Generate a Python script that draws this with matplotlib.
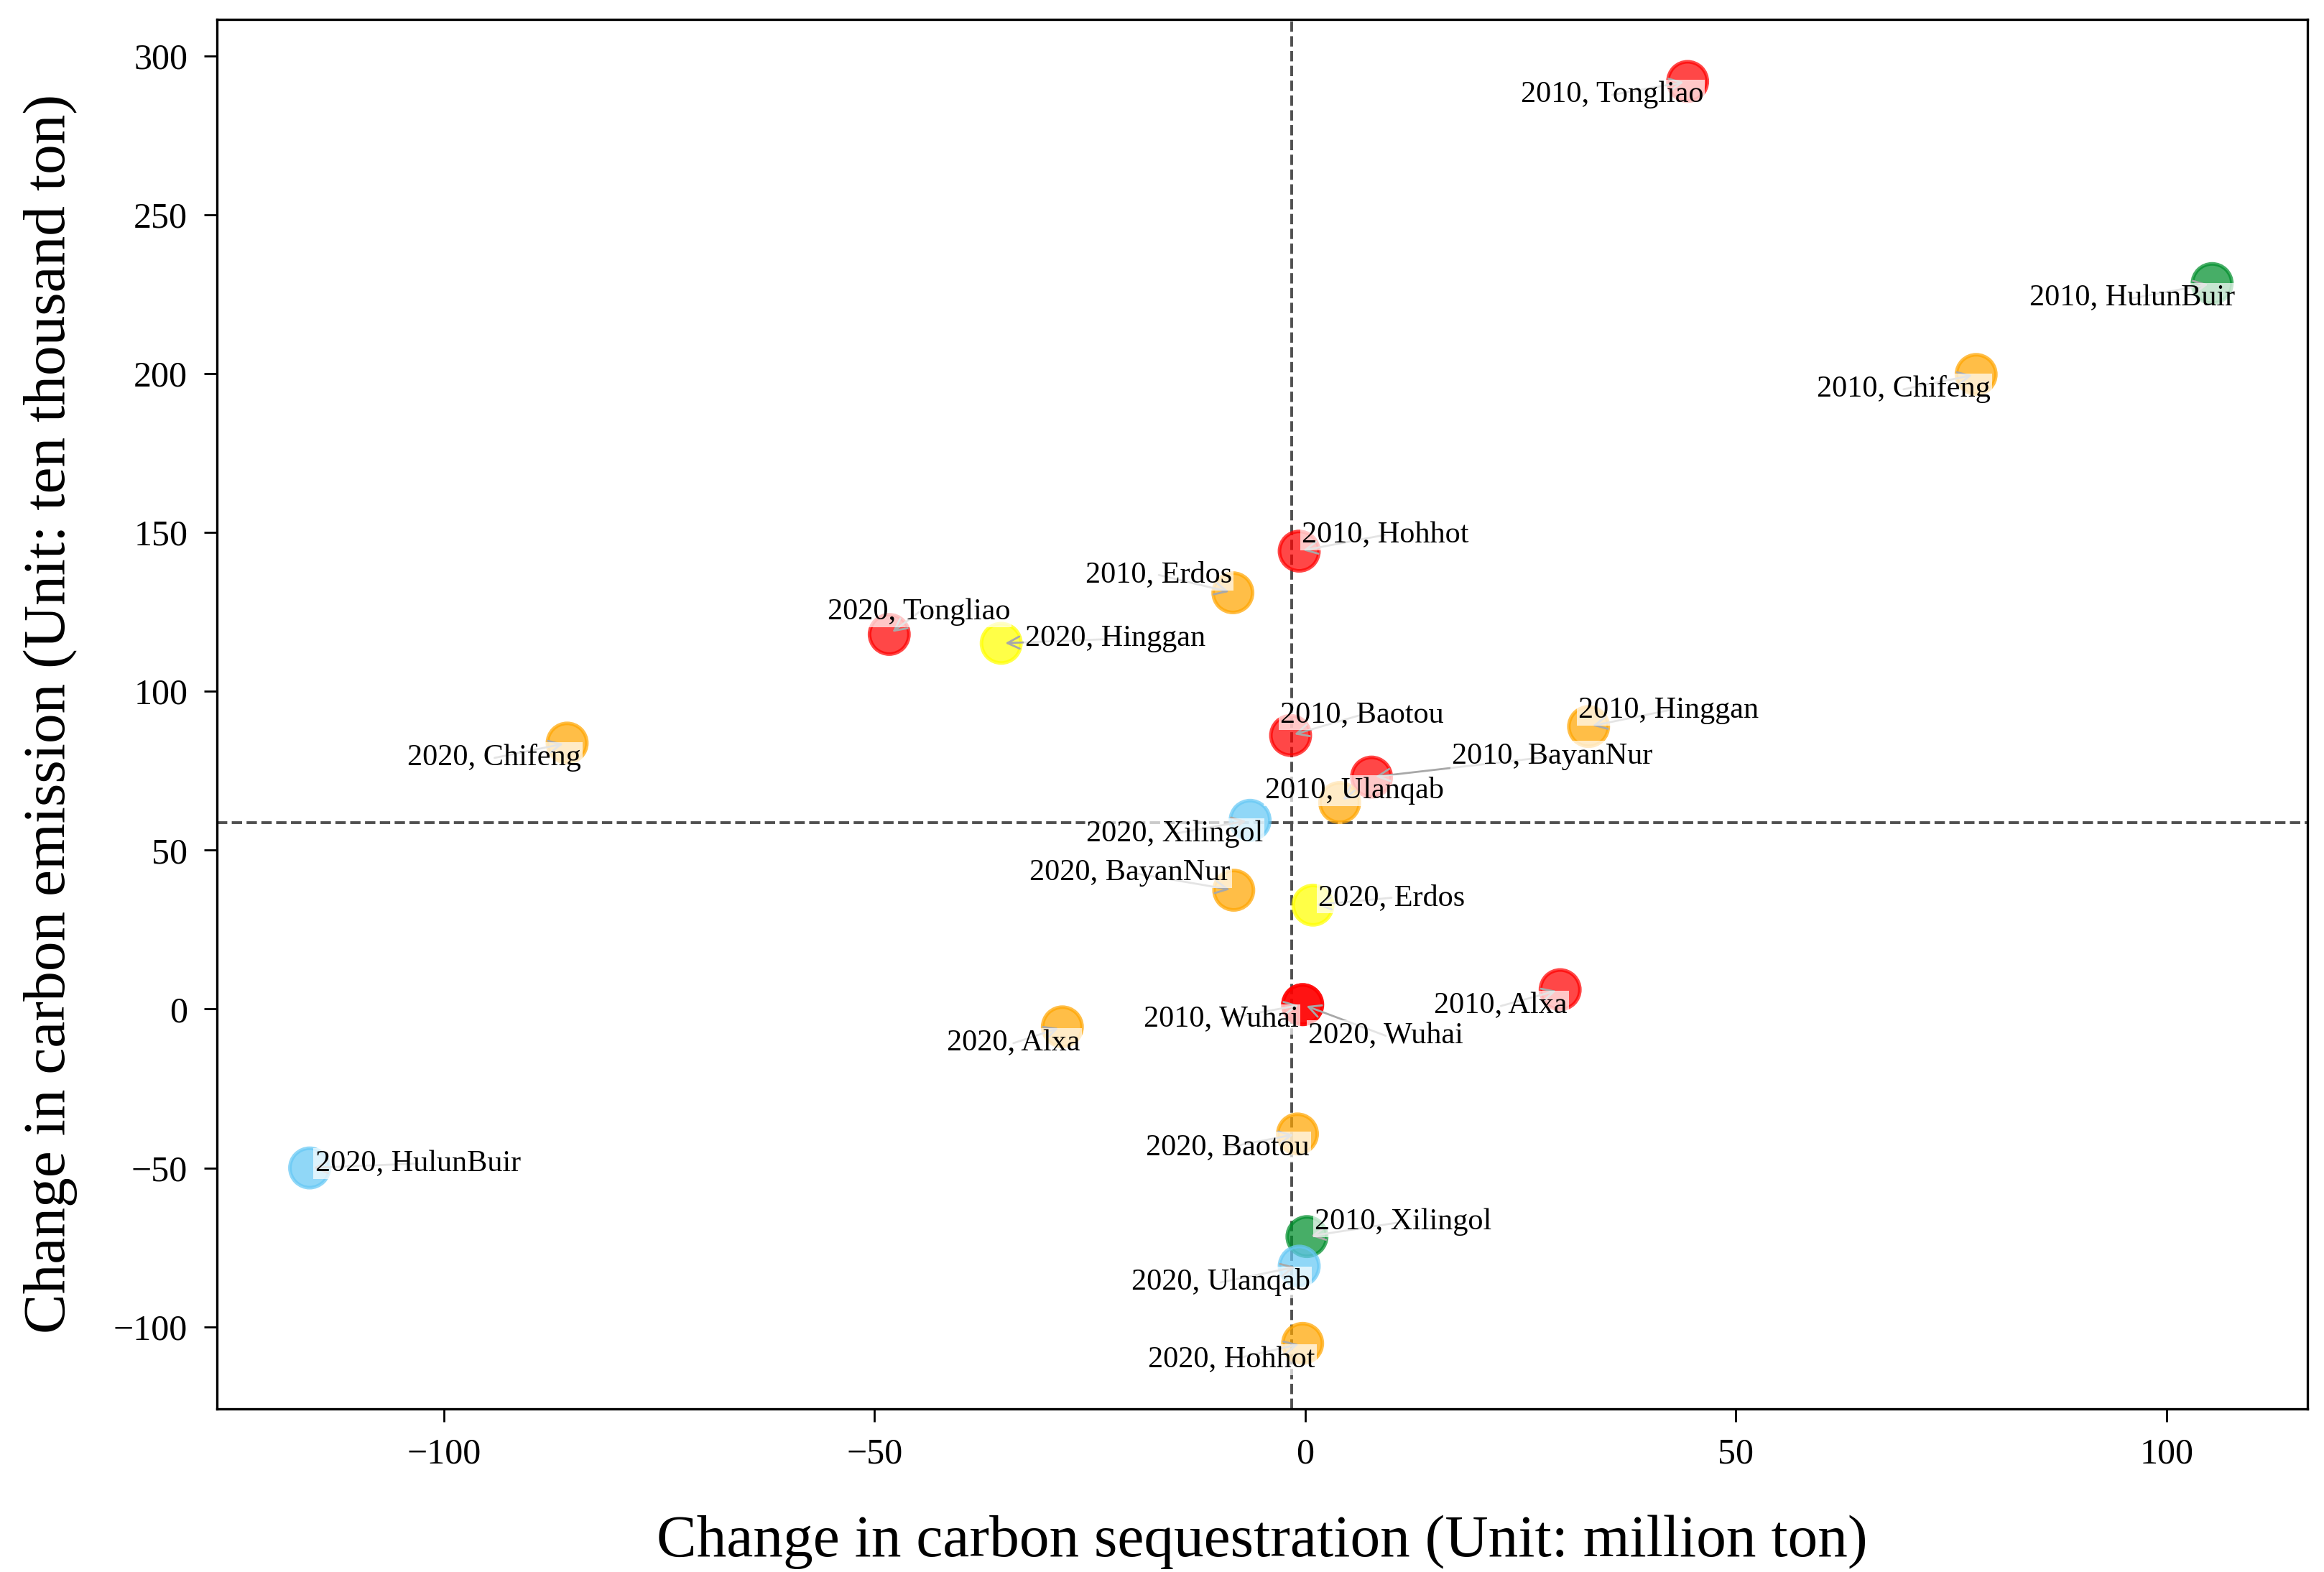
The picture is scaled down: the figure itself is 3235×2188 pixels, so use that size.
import numpy as np
import matplotlib
matplotlib.use("Agg")
import matplotlib.pyplot as plt

# city / year labels and values
labels = ["2010, Tongliao", "2010, HulunBuir", "2010, Chifeng", "2010, Hohhot",
          "2010, Erdos", "2020, Tongliao", "2020, Hinggan", "2020, Chifeng",
          "2010, Baotou", "2010, Hinggan", "2010, BayanNur", "2010, Ulanqab",
          "2020, Xilingol", "2020, BayanNur", "2020, Erdos", "2010, Alxa",
          "2010, Wuhai", "2020, Wuhai", "2020, Alxa", "2020, Baotou",
          "2020, HulunBuir", "2010, Xilingol", "2020, Ulanqab", "2020, Hohhot"]
sequestration = [44.4, 105.3, 77.9, -0.7, -8.4, -48.3, -35.3, -85.7,
                 -1.7, 32.9, 7.7, 4.0, -6.4, -8.3, 0.9, 29.6,
                 -0.3, -0.3, -28.2, -0.9, -115.6, 0.2, -0.7, -0.3]
emission = [291.9, 228.3, 199.7, 144.1, 131.0, 117.9, 115.1, 83.7,
            86.1, 88.9, 73.0, 65.0, 59.4, 37.4, 32.7, 6.1,
            1.4, 1.4, -5.6, -39.3, -50.0, -71.6, -80.9, -105.2]
groups = ["red", "green", "orange", "red", "orange", "red", "yellow", "orange",
          "red", "orange", "red", "orange", "blue", "orange", "yellow", "red",
          "red", "red", "orange", "orange", "blue", "green", "blue", "orange"]

palette = {"red": "#ff0000", "orange": "#ffa500", "yellow": "#ffff00",
           "green": "#008f2c", "blue": "#66c8f5"}

# label offsets (display px of the reference, x right / y down)
offsets = [(-51, 9), (-54, 10), (-49, 10), (58, -11), (-50, -12), (20, -15),
           (77, -3), (-49, 10), (48, -14), (54, -11), (122, -14), (10, -8),
           (-51, 9), (-70, -12), (53, -5), (-40, 11), (-55, 10), (56, 21),
           (-33, 11), (-47, 9), (73, -3), (65, -10), (-53, 11), (-48, 11)]

plt.rcParams['font.family'] = ['Liberation Serif', 'DejaVu Serif']

fig = plt.figure(figsize=(16.175, 10.94), dpi=200)
ax = fig.add_axes([0.0932, 0.1038, 0.8998, 0.884])

x = np.array(sequestration)
y = np.array(emission)
cols = [palette[g] for g in groups]
ax.scatter(x, y, s=390, c=cols, edgecolors=cols, linewidths=1.8, alpha=0.72, zorder=3)

ax.axvline(x.mean(), color="#505050", ls="--", lw=1.4, zorder=1)
ax.axhline(y.mean(), color="#505050", ls="--", lw=1.4, zorder=1)

px2pt = 0.7427
for lab, xi, yi, (dx, dy) in zip(labels, x, y, offsets):
    ax.annotate(lab, (xi, yi), xytext=(dx * px2pt, -dy * px2pt),
                textcoords="offset points", ha="center", va="center",
                fontsize=15.2, zorder=4,
                bbox=dict(boxstyle="square,pad=0.05", fc="white", ec="none", alpha=0.7),
                arrowprops=dict(arrowstyle="->", color="#a8a8a8", lw=1.0,
                                patchA=None, shrinkA=0, shrinkB=2))

ax.set_xlim(-126.4, 116.4)
ax.set_ylim(-125.8, 311.5)
ax.set_xticks([-100, -50, 0, 50, 100])
ax.set_yticks([-100, -50, 0, 50, 100, 150, 200, 250, 300])
ax.tick_params(labelsize=18, length=6.5, width=1.0, pad=8)
for sp in ax.spines.values():
    sp.set_linewidth(1.2)

ax.set_xlabel("Change in carbon sequestration (Unit: million ton)", fontsize=30, labelpad=22)
ax.set_ylabel("Change in carbon emission (Unit: ten thousand ton)", fontsize=30, labelpad=18)

fig.savefig("out.png", dpi=200)
